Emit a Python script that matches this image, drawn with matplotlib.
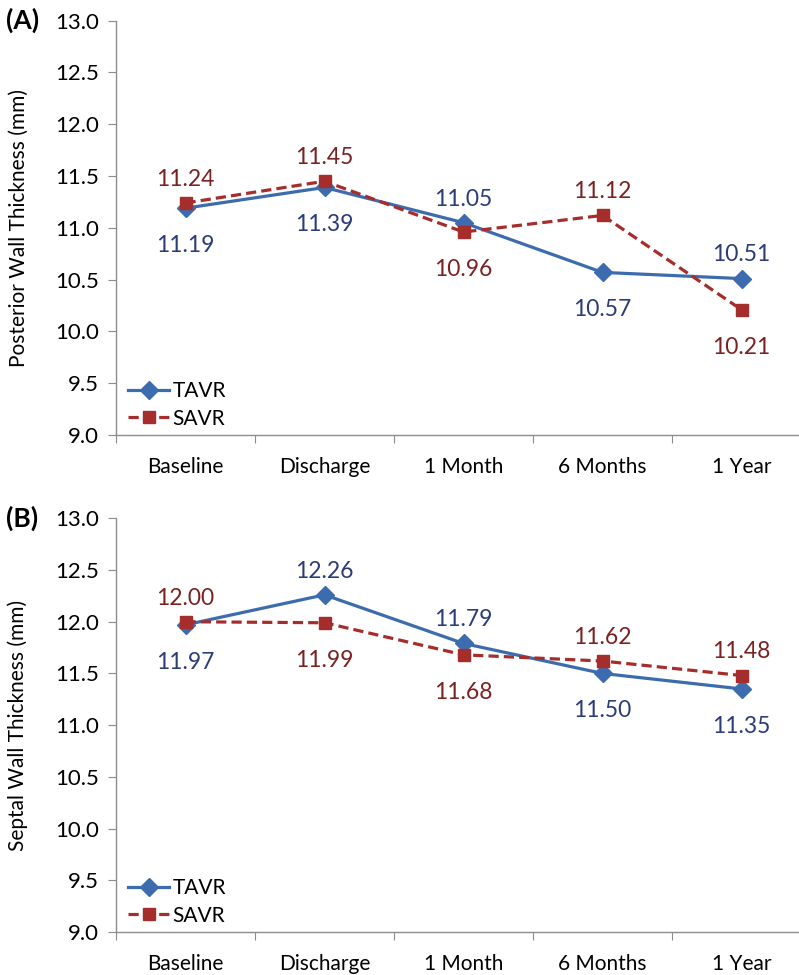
import matplotlib
matplotlib.use("Agg")
import matplotlib.pyplot as plt

plt.rcParams['font.family'] = ['Lato', 'DejaVu Sans']

categories = ["Baseline", "Discharge", "1 Month", "6 Months", "1 Year"]

posterior_tavr = [11.19, 11.39, 11.05, 10.57, 10.51]
posterior_savr = [11.24, 11.45, 10.96, 11.12, 10.21]
septal_tavr = [11.97, 12.26, 11.79, 11.50, 11.35]
septal_savr = [12.00, 11.99, 11.68, 11.62, 11.48]

# label placement: +1 above the point, -1 below
posterior_tavr_pos = [-1, -1, 1, -1, 1]
posterior_savr_pos = [1, 1, -1, 1, -1]
septal_tavr_pos = [-1, 1, 1, -1, -1]
septal_savr_pos = [1, -1, -1, 1, 1]

y_ticks = [9.0, 9.5, 10.0, 10.5, 11.0, 11.5, 12.0, 12.5, 13.0]

BLUE = "#3d6cae"
BLUE_TXT = "#2c3c78"
RED = "#a52d2b"
RED_TXT = "#7a2222"
GRAY = "#8c8c8c"

W, H = 799, 975
fig = plt.figure(figsize=(W / 100, H / 100), dpi=100)

left = 116 / W
width = 695 / W
axA = fig.add_axes([left, 1 - 435 / H, width, (435 - 20.7) / H])
axB = fig.add_axes([left, 1 - 932 / H, width, (932 - 518.3) / H])


def draw_panel(ax, tavr, savr, tpos, spos, ylabel, tag):
    x = list(range(len(categories)))
    ax.plot(x, tavr, color=BLUE, lw=2.3, marker="D", ms=9.5,
            mfc=BLUE, mec=BLUE, label="TAVR", zorder=3)
    ax.plot(x, savr, color=RED, lw=2.3, ls=(0, (3.2, 1.6)), marker="s", ms=8.5,
            mfc=RED, mec=RED, label="SAVR", zorder=4)
    for xi, v, p in zip(x, tavr, tpos):
        off = 17 if p > 0 else -27
        ax.annotate(f"{v:.2f}", (xi, v), xytext=(0, off), textcoords="offset points",
                    ha="center", va="center", fontsize=16.5, color=BLUE_TXT)
    for xi, v, p in zip(x, savr, spos):
        off = 17 if p > 0 else -27
        ax.annotate(f"{v:.2f}", (xi, v), xytext=(0, off), textcoords="offset points",
                    ha="center", va="center", fontsize=16.5, color=RED_TXT)

    ax.set_xlim(-0.5, 4.5)
    ax.set_ylim(9.0, 13.0)
    ax.set_yticks(y_ticks)
    ax.set_yticklabels([f"{t:.1f}" for t in y_ticks])
    ax.set_xticks([i - 0.5 for i in range(len(categories) + 1)])
    ax.set_xticklabels([])
    ax.set_xticks(range(len(categories)), minor=True)
    ax.set_xticklabels(categories, minor=True)
    ax.tick_params(axis="x", which="minor", length=0, pad=16, labelsize=15)
    ax.tick_params(axis="x", which="major", length=6, color=GRAY, direction="out")
    ax.tick_params(axis="y", length=6, color=GRAY, direction="out", pad=6, labelsize=16)
    for s in ("top", "right"):
        ax.spines[s].set_visible(False)
    for s in ("left", "bottom"):
        ax.spines[s].set_color(GRAY)
        ax.spines[s].set_linewidth(1.0)
    ax.set_ylabel(ylabel, fontsize=15)
    ax.yaxis.set_label_coords(-0.126, 0.5)
    ax.legend(loc="lower left", frameon=False, fontsize=15, handlelength=2.0,
              handletextpad=0.15, borderaxespad=0.0, labelspacing=0.35,
              bbox_to_anchor=(0.005, -0.005))
    ax.text(-0.158, 1.0, tag, transform=ax.transAxes, fontsize=19, fontweight="bold",
            ha="left", va="center")


draw_panel(axA, posterior_tavr, posterior_savr, posterior_tavr_pos, posterior_savr_pos,
           "Posterior Wall Thickness (mm)", "(A)")
draw_panel(axB, septal_tavr, septal_savr, septal_tavr_pos, septal_savr_pos,
           "Septal Wall Thickness (mm)", "(B)")

fig.savefig("out.png", dpi=100)
